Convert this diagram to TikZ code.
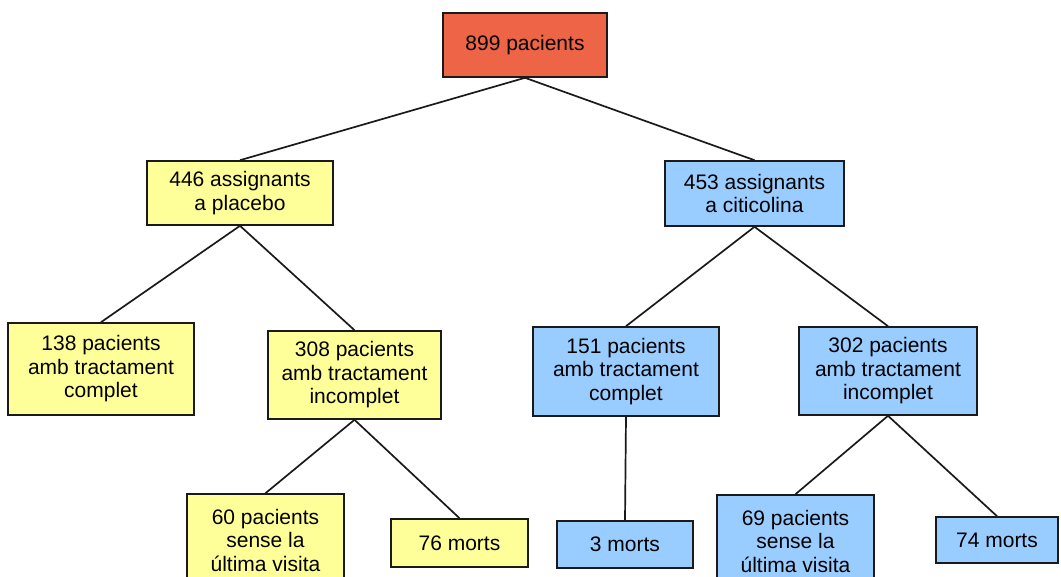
\documentclass[tikz,border=0pt]{standalone}
\usepackage{fontspec}
\setmainfont{Liberation Sans}
\definecolor{cred}{HTML}{EE6446}
\definecolor{cyel}{HTML}{FFFF99}
\definecolor{cblu}{HTML}{99CCFF}
\definecolor{cdark}{HTML}{1A1A1A}

\begin{document}
\begin{tikzpicture}[
    x=1pt, y=-1pt,
    font=\fontsize{21}{23.5}\selectfont,
    box/.style={
        rectangle, draw=cdark, line width=1.6pt, align=center,
        inner sep=2pt
    },
    total/.style={box, fill=cred},
    plac/.style={box, fill=cyel},
    citi/.style={box, fill=cblu},
    edge/.style={-, draw=cdark, line width=1.7pt}
]
\useasboundingbox (0,0) rectangle (1061,577);

\node[total, minimum width=164pt, minimum height=64pt] (r)    at (525,45)    {899 pacients};
\node[plac,  minimum width=186pt, minimum height=64pt] (pl)   at (240,193)   {446 assignants\\a placebo};
\node[citi,  minimum width=179pt, minimum height=65pt] (ci)   at (754.5,193.5) {453 assignants\\a citicolina};

\node[plac, minimum width=186pt, minimum height=92pt] (pl1) at (101,369)   {138 pacients\\amb tractament\\complet};
\node[plac, minimum width=173pt, minimum height=88pt] (pl2) at (354.5,375) {308 pacients\\amb tractament\\incomplet};
\node[citi, minimum width=186pt, minimum height=89pt] (ci1) at (626,371.5) {151 pacients\\amb tractament\\complet};
\node[citi, minimum width=178pt, minimum height=88pt] (ci2) at (888,371)   {302 pacients\\amb tractament\\incomplet};

\node[plac, minimum width=157pt, minimum height=92pt] (pl2a) at (265.5,540) {60 pacients\\sense la\\última visita};
\node[plac, minimum width=137pt, minimum height=48pt] (pl2b) at (459.5,543) {76 morts};
\node[citi, minimum width=136pt, minimum height=47pt] (ci1a) at (625,544.5) {3 morts};
\node[citi, minimum width=157pt, minimum height=92pt] (ci2a) at (795.5,541) {69 pacients\\sense la\\última visita};
\node[citi, minimum width=122pt, minimum height=46pt] (ci2b) at (997,540)   {74 morts};

\foreach \a/\b in {r/pl, r/ci, pl/pl1, pl/pl2, ci/ci1, ci/ci2,
                   pl2/pl2a, pl2/pl2b, ci1/ci1a, ci2/ci2a, ci2/ci2b}
  \draw[edge] (\a.south) -- (\b.north);
\end{tikzpicture}
\end{document}
